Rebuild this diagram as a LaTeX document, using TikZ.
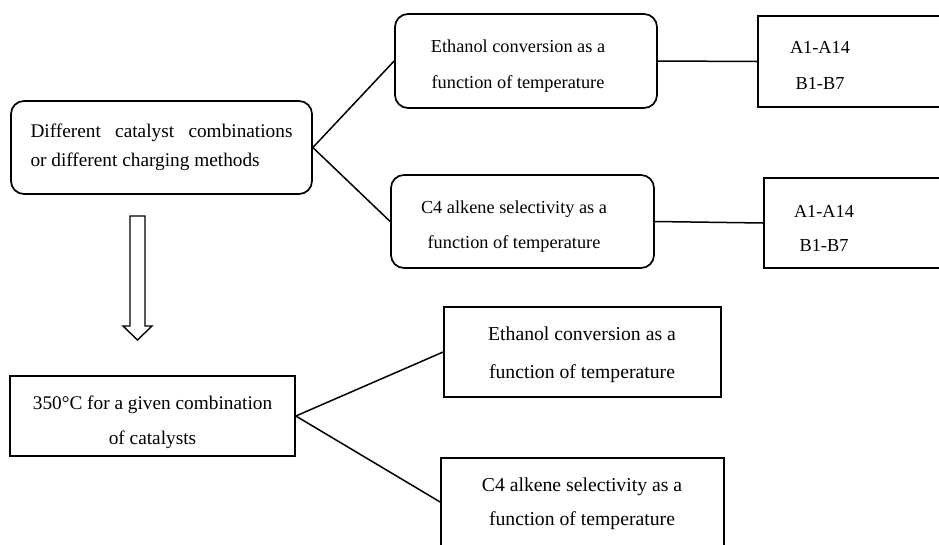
\documentclass[tikz,border=0pt]{standalone}
\usepackage{fontspec}
\setmainfont{Liberation Serif}
\begin{document}
\begin{tikzpicture}[x=1pt,y=-1pt,
  base/.style={draw=black, line width=1.7pt, inner sep=0pt},
  rbox/.style={base, rounded corners=13pt},
  sbox/.style={base},
  txt/.style={align=center, inner sep=0pt},
  ftR/.style={font=\fontsize{18.3}{36}\selectfont},
  conn/.style={line width=1.5pt}]
\useasboundingbox (0,0) rectangle (939,544);
\clip (0,0) rectangle (939,544);
% top part
\node[rbox, minimum width=301, minimum height=93] (start) at (161.5,147.5) {};
\node[txt, font=\fontsize{19.3}{29}\selectfont] (startt) at (161.5,147.5)
  {\makebox[262pt][s]{Different catalyst combinations}\\\makebox[262pt][l]{or different charging methods}};
\node[rbox, minimum width=262, minimum height=94] (eth1) at (526,61) {};
\node[txt, ftR] (eth1t) at (518,66) {Ethanol conversion as a\\function of temperature};
\node[rbox, minimum width=263, minimum height=93] (c41) at (522.5,221.5) {};
\node[txt, ftR, font=\fontsize{18.3}{35}\selectfont] (c41t) at (514,227) {C4 alkene selectivity as a\\function of temperature};
\node[sbox, minimum width=200, minimum height=91, anchor=west] (ab1) at (757,61.5) {};
\node[txt, ftR] (ab1t) at (820,65.5) {A1-A14\\B1-B7};
\node[sbox, minimum width=200, minimum height=90, anchor=west] (ab2) at (763,223) {};
\node[txt, ftR, font=\fontsize{18.3}{34}\selectfont] (ab2t) at (824,228) {A1-A14\\B1-B7};
\draw[conn] (start.east) -- (eth1.west);
\draw[conn] (start.east) -- (c41.west);
\draw[conn] (eth1.east) -- (ab1.west);
\draw[conn] (c41.east) -- (ab2.west);
% hollow arrow
\draw[line width=1.4pt, line join=miter] (130,216) -- (145,216) -- (145,326) -- (152,326) -- (137.5,340) -- (123,326) -- (130,326) -- cycle;
% bottom part
\node[sbox, minimum width=285, minimum height=80] (fix) at (152.5,416) {};
\node[txt, font=\fontsize{19.3}{35}\selectfont] (fixt) at (152.5,422.5) {350°C for a given combination\\of catalysts};
\node[sbox, minimum width=277, minimum height=90] (eth2) at (582.5,352) {};
\node[txt, font=\fontsize{19.7}{38}\selectfont] (eth2t) at (582,355) {Ethanol conversion as a\\function of temperature};
\node[sbox, minimum width=283, minimum height=88] (c42) at (582.5,502) {};
\node[txt, font=\fontsize{19.7}{34}\selectfont] (c42t) at (582,504) {C4 alkene selectivity as a\\function of temperature};
\draw[conn] (fix.east) -- (eth2.west);
\draw[conn] (fix.east) -- (c42.west);
\end{tikzpicture}
\end{document}
